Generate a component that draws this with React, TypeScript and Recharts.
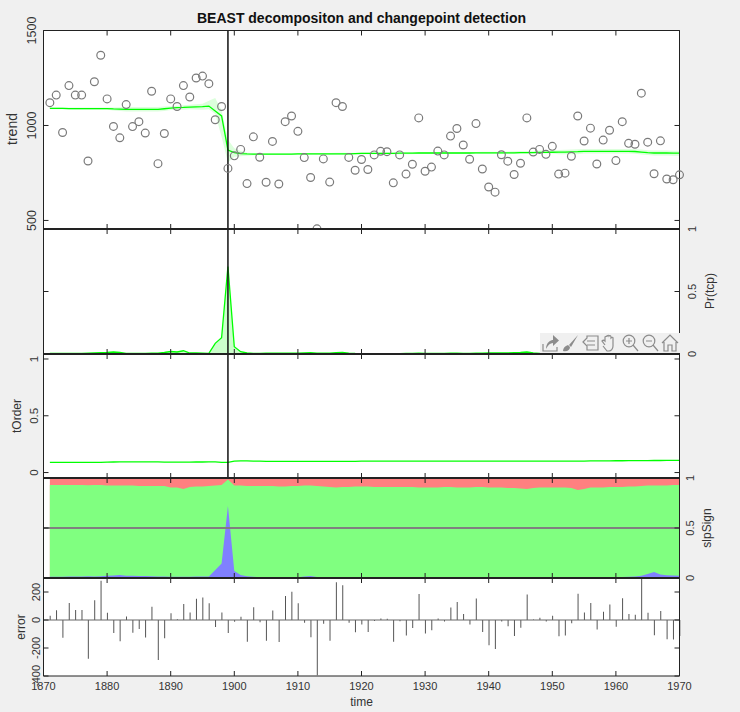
import React from "react";
import { ComposedChart, Line, Area, Bar, XAxis, YAxis, ReferenceLine, CartesianGrid } from "recharts";

const years = [1871,1872,1873,1874,1875,1876,1877,1878,1879,1880,1881,1882,1883,1884,1885,1886,1887,1888,1889,1890,1891,1892,1893,1894,1895,1896,1897,1898,1899,1900,1901,1902,1903,1904,1905,1906,1907,1908,1909,1910,1911,1912,1913,1914,1915,1916,1917,1918,1919,1920,1921,1922,1923,1924,1925,1926,1927,1928,1929,1930,1931,1932,1933,1934,1935,1936,1937,1938,1939,1940,1941,1942,1943,1944,1945,1946,1947,1948,1949,1950,1951,1952,1953,1954,1955,1956,1957,1958,1959,1960,1961,1962,1963,1964,1965,1966,1967,1968,1969,1970];
const observed = [1120,1160,963,1210,1160,1160,813,1230,1370,1140,995,935,1110,994,1020,960,1180,799,958,1140,1100,1210,1150,1250,1260,1220,1030,1100,774,840,874,694,940,833,701,916,692,1020,1050,969,831,726,456,824,702,1120,1100,832,764,821,768,845,864,862,698,845,744,796,1040,759,781,865,845,944,984,897,822,1010,771,676,649,846,812,742,801,1040,860,874,848,890,744,749,838,1050,918,986,797,923,975,815,1020,906,901,1170,912,746,919,718,714,740];
const trend = [1090,1090,1090,1089,1089,1089,1089,1089,1089,1089,1087,1086,1085,1085,1085,1085,1085,1085,1088,1091,1094,1095,1097,1098,1099,1102,1076,1050,871,857,852,850,849,849,849,849,849,849,849,850,850,850,850,850,850,851,851,851,852,853,853,853,853,853,853,854,854,854,855,855,855,855,855,855,855,855,855,856,856,856,856,856,856,856,857,857,857,858,858,859,860,860,861,862,864,864,864,864,864,864,864,864,863,860,857,855,855,855,854,854];
const trendHi = [1095,1095,1095,1094,1095,1095,1095,1095,1095,1095,1095,1096,1097,1097,1097,1097,1097,1097,1100,1101,1104,1107,1109,1112,1115,1130,1145,1080,925,880,865,857,855,854,854,854,854,854,854,855,855,855,855,855,855,856,856,856,857,858,858,858,858,858,858,859,859,859,860,860,860,860,860,860,860,860,860,861,862,862,862,862,863,864,866,866,866,868,868,870,871,872,874,875,876,876,876,876,876,876,876,876,875,873,870,868,868,868,867,867];
const trendLo = [1085,1085,1085,1084,1083,1083,1083,1083,1083,1083,1079,1076,1073,1073,1073,1073,1073,1073,1076,1081,1084,1083,1085,1084,1083,1085,1060,940,805,835,838,841,843,844,844,844,844,844,844,845,845,845,845,845,845,846,846,846,847,848,848,848,848,848,848,849,849,849,850,850,850,850,850,850,850,850,850,851,850,850,850,850,851,850,852,852,852,852,852,852,849,848,848,849,852,852,852,852,852,852,852,852,851,847,844,842,842,842,841,841];
const prTcp = [.005,.004,.004,.004,.004,.004,.006,.008,.01,.012,.016,.012,.004,.005,.005,.005,.006,.006,.012,.02,.016,.026,.008,.008,.007,.005,.085,.13,.7,.058,.018,.008,.005,.005,.006,.006,.006,.007,.007,.006,.008,.01,.007,.007,.007,.01,.013,.007,.004,.003,.003,.003,.003,.003,.003,.003,.004,.004,.006,.005,.004,.004,.004,.006,.006,.005,.005,.006,.007,.008,.008,.008,.009,.01,.012,.016,.008,.005,.005,.005,.004,.004,.004,.004,.004,.004,.004,.004,.004,.004,.005,.005,.005,.005,.005,.005,.005,.005,.005,.005];
const tOrder = [.09,.09,.09,.09,.09,.09,.09,.09,.09,.092,.093,.094,.094,.094,.094,.094,.094,.094,.092,.092,.092,.092,.092,.093,.093,.094,.094,.09,.09,.1,.102,.102,.1,.1,.098,.098,.098,.098,.098,.098,.098,.098,.098,.098,.098,.099,.099,.099,.099,.1,.1,.1,.1,.1,.1,.1,.1,.1,.1,.1,.1,.1,.1,.1,.1,.1,.1,.1,.1,.1,.1,.1,.1,.1,.1,.1,.1,.1,.1,.1,.1,.1,.1,.101,.101,.102,.102,.103,.103,.104,.104,.105,.105,.105,.105,.106,.106,.107,.107,.107];
const slopeNegTop = [.012,.012,.012,.015,.015,.015,.018,.015,.018,.022,.025,.03,.022,.022,.02,.02,.018,.016,.014,.012,.012,.012,.012,.014,.014,.015,.08,.145,.72,.07,.03,.018,.012,.008,.006,.006,.006,.007,.007,.008,.016,.02,.01,.003,.002,.002,.002,.002,.002,.002,.002,.002,.002,.002,.002,.002,.002,.002,.002,.002,.002,.002,.002,.002,.002,.002,.002,.002,.002,.002,.002,.002,.002,.002,.002,.002,.002,.002,.002,.002,.002,.002,.002,.002,.002,.003,.004,.005,.006,.008,.01,.012,.016,.022,.04,.06,.035,.028,.025,.022];
const slopeZeroTop = [.93,.93,.93,.93,.93,.93,.928,.93,.93,.925,.925,.925,.925,.925,.92,.92,.92,.92,.92,.905,.905,.89,.91,.915,.915,.92,.925,.93,.985,.925,.925,.92,.92,.92,.92,.92,.915,.915,.92,.92,.925,.925,.92,.915,.91,.905,.91,.91,.915,.915,.915,.91,.91,.91,.91,.91,.91,.91,.905,.905,.905,.905,.91,.91,.905,.905,.905,.91,.91,.905,.905,.905,.9,.9,.895,.89,.9,.905,.905,.905,.905,.905,.9,.88,.89,.905,.905,.905,.91,.91,.91,.915,.915,.92,.925,.925,.925,.925,.93,.93];
const slopePosTop = [1,1,1,1,1,1,1,1,1,1,1,1,1,1,1,1,1,1,1,1,1,1,1,1,1,1,1,1,1,1,1,1,1,1,1,1,1,1,1,1,1,1,1,1,1,1,1,1,1,1,1,1,1,1,1,1,1,1,1,1,1,1,1,1,1,1,1,1,1,1,1,1,1,1,1,1,1,1,1,1,1,1,1,1,1,1,1,1,1,1,1,1,1,1,1,1,1,1,1,1];
const residual = [30,70,-127,121,71,71,-276,141,281,51,-92,-151,25,-91,-65,-125,95,-286,-130,49,6,115,53,152,161,120,-50,54,-93,-13,24,-155,91,-16,-148,67,-157,171,201,119,-19,-124,-394,-26,-148,269,249,-19,-88,-32,-85,-8,11,9,-155,-9,-110,-58,185,-96,-74,10,-10,89,129,42,-33,154,-85,-180,-207,-10,-44,-114,-56,183,3,16,-10,31,-116,-111,-23,188,54,122,-67,59,111,-49,156,42,37,307,52,-109,64,-137,-140,-114];

const xTicks = [1870,1880,1890,1900,1910,1920,1930,1940,1950,1960,1970];
const trendTicks = [500,1000,1500];
const unitTicks = [0,0.5,1];
const errorTicks = [-400,-200,0,200];

const rows = years.map((year, i) => ({
  year,
  observed: observed[i],
  trend: trend[i],
  band: [trendLo[i], trendHi[i]],
  prTcp: prTcp[i],
  tOrder: tOrder[i],
  neg: slopeNegTop[i],
  zero: slopeZeroTop[i],
  pos: slopePosTop[i],
  residual: residual[i],
}));

const INK = "#333333";
const FONT = "'Liberation Sans', Arial, sans-serif";
const W = 740;
const H = 712;
const MARGIN_L = 43.5;
const MARGIN_R = 60.5;
const TICK = 5;

const XTick = ({ x, y, payload, dir, label }: any) => (
  <g>
    <line x1={x} x2={x} y1={y} y2={y + dir * TICK} stroke="#222" strokeWidth={1} />
    {label ? (
      <text x={x} y={y + 14} textAnchor="middle" fontFamily={FONT} fontSize={11} fill={INK}>
        {payload.value}
      </text>
    ) : null}
  </g>
);

const YTick = ({ x, y, payload, dir, label, labelX, labelSize }: any) => (
  <g>
    <line x1={x} x2={x + dir * TICK} y1={y} y2={y} stroke="#222" strokeWidth={1} />
    {label ? (
      <text
        x={labelX}
        y={y}
        textAnchor="middle"
        dominantBaseline="central"
        transform={`rotate(-90 ${labelX} ${y})`}
        fontFamily={FONT}
        fontSize={labelSize}
        fill={INK}
      >
        {payload.value}
      </text>
    ) : null}
  </g>
);

type PanelProps = {
  top: number;
  bottom: number;
  domain: [number, number];
  ticks: number[];
  labelSide: "l" | "r";
  labelX: number;
  labelSize?: number;
  ghost: string;
  topWidth?: number;
  bottomWidth?: number;
  showX?: boolean;
  clipY?: boolean;
  children: React.ReactNode;
};

const frame = (w: number) => ({ stroke: "#222", strokeWidth: w });

const Panel = ({ top, bottom, domain, ticks, labelSide, labelX, labelSize = 11, ghost, topWidth = 1, bottomWidth = 2, showX = false, clipY = false, children }: PanelProps) => (
  <div style={{ position: "absolute", left: 0, top: 0, width: W, height: H }}>
    <ComposedChart
      width={W}
      height={H}
      data={rows}
      margin={{ top: top - 1, bottom: H - bottom - 1, left: MARGIN_L - 1, right: MARGIN_R - 1 }}
    >
      <CartesianGrid xAxisId="b" yAxisId="l" horizontal={false} vertical={false} fill="#ffffff" />
      {children}
      <Line xAxisId="t" yAxisId="r" dataKey={ghost} stroke="none" dot={false} activeDot={false} isAnimationActive={false} />
      <XAxis xAxisId="b" dataKey="year" type="number" domain={[1870, 1970]} ticks={xTicks} interval={0} orientation="bottom" height={1} tickSize={0} tickMargin={0} tickLine={false} axisLine={frame(bottomWidth)} tick={(p: any) => <XTick {...p} dir={-1} label={showX} />} />
      <XAxis xAxisId="t" dataKey="year" type="number" domain={[1870, 1970]} ticks={xTicks} interval={0} orientation="top" height={1} tickSize={0} tickMargin={0} tickLine={false} axisLine={frame(topWidth)} tick={(p: any) => <XTick {...p} dir={1} label={false} />} />
      <YAxis yAxisId="l" type="number" domain={domain} ticks={ticks} interval={0} orientation="left" width={1} tickSize={0} tickMargin={0} tickLine={false} axisLine={frame(1)} allowDataOverflow={clipY} tick={(p: any) => <YTick {...p} dir={1} label={labelSide === "l"} labelX={labelX} labelSize={labelSize} />} />
      <YAxis yAxisId="r" type="number" domain={domain} ticks={ticks} interval={0} orientation="right" width={1} tickSize={0} tickMargin={0} tickLine={false} axisLine={frame(1)} allowDataOverflow={clipY} tick={(p: any) => <YTick {...p} dir={-1} label={labelSide === "r"} labelX={labelX} labelSize={labelSize} />} />
    </ComposedChart>
  </div>
);

const axisIds = { xAxisId: "b", yAxisId: "l" };

const RotLabel = ({ x, y, size, children }: any) => (
  <div
    style={{
      position: "absolute",
      left: x,
      top: y,
      transform: "translate(-50%, -50%) rotate(-90deg)",
      fontFamily: FONT,
      fontSize: size,
      color: INK,
      whiteSpace: "nowrap",
      lineHeight: 1,
    }}
  >
    {children}
  </div>
);

const ICON = "#8c8c8c";
const Toolbar = () => (
  <svg style={{ position: "absolute", left: 540, top: 333 }} width={140} height={20}>
    <rect x={0} y={0} width={140} height={20} fill="#f0f0f0" />
    <g fill="none" stroke={ICON} strokeWidth={1.2}>
      <path d="M3 11 V18 H17 V14" />
      <path d="M6 16 C6 9 11 7 13 7 V2 L19 7.5 L13 13 V10 C10 10 8 12 6 16 Z" fill={ICON} stroke="none" />
      <path d="M23 18 C23 15 25 13 28 12 L30 14 C30 17 27 19 23 18 Z" fill={ICON} stroke="none" />
      <path d="M29 12 L38 2 L31 14 Z" fill={ICON} stroke="none" />
      <path d="M43 9 L47 5 V3 H58 V17 H47 V13 Z" />
      <path d="M47 8 H55 M47 12 H55" />
      <path d="M65 12 L62 8 C63 7 64 7 65 8 V4 C66 3 67 3 67 4 V3 C68 2 69 2 69 3 V3 C70 2 71 3 71 4 V5 C72 4 73 4 73 5 V13 C73 16 71 18 69 18 H67 L63 13" />
      <circle cx="89" cy="8" r="5.8" />
      <path d="M86 8 H92 M89 5 V11 M93 12 L98 18" />
      <circle cx="109" cy="8" r="5.8" />
      <path d="M106 8 H112 M113 12 L118 18" />
      <path d="M122 10 L130 2 L138 10 M124 9 V18 H128 V12 H132 V18 H136 V9" />
    </g>
  </svg>
);

export default function App() {
  return (
    <div style={{ position: "absolute", left: 0, top: 0, width: W, height: H, background: "#f0f0f0", overflow: "hidden" }}>
      <Panel top={30.5} bottom={229} domain={[455, 1500]} ticks={trendTicks} labelSide="l" labelX={32} labelSize={12.5} ghost="trend">
        <Area {...axisIds} dataKey="band" type="linear" stroke="none" fill="#dcffdc" fillOpacity={1} isAnimationActive={false} />
        <Line {...axisIds} dataKey="trend" type="linear" stroke="#00ff00" strokeWidth={1.3} dot={false} isAnimationActive={false} />
        <Line {...axisIds} dataKey="observed" type="linear" stroke="none" dot={{ r: 3.9, fill: "none", stroke: "#7a7a7a", strokeWidth: 1.2 }} activeDot={false} isAnimationActive={false} />
        <ReferenceLine {...axisIds} x={1899} stroke="#111" strokeWidth={1.5} />
      </Panel>
      <Panel top={229} bottom={354} domain={[0, 1]} ticks={unitTicks} labelSide="r" labelX={691.5} ghost="prTcp" topWidth={2}>
        <Area {...axisIds} dataKey="prTcp" type="linear" stroke="#00ff00" strokeWidth={1.3} fill="#ccffcc" fillOpacity={1} isAnimationActive={false} />
        <ReferenceLine {...axisIds} x={1899} stroke="#111" strokeWidth={1.5} />
      </Panel>
      <Panel top={354} bottom={478} domain={[-0.048, 1.044]} ticks={unitTicks} labelSide="l" labelX={34} labelSize={11.5} ghost="tOrder" topWidth={2}>
        <Line {...axisIds} dataKey="tOrder" type="linear" stroke="#00ff00" strokeWidth={1.3} dot={false} isAnimationActive={false} />
        <ReferenceLine {...axisIds} x={1899} stroke="#111" strokeWidth={1.5} />
      </Panel>
      <Panel top={478} bottom={578} domain={[0, 1]} ticks={unitTicks} labelSide="r" labelX={689.5} ghost="zero" topWidth={2}>
        <Area {...axisIds} dataKey="pos" type="linear" stroke="none" fill="#ff8080" fillOpacity={1} isAnimationActive={false} />
        <Area {...axisIds} dataKey="zero" type="linear" stroke="none" fill="#80ff80" fillOpacity={1} isAnimationActive={false} />
        <Area {...axisIds} dataKey="neg" type="linear" stroke="none" fill="#8080ff" fillOpacity={1} isAnimationActive={false} />
        <ReferenceLine {...axisIds} y={0.5} stroke="#808080" strokeWidth={2} />
      </Panel>
      <Panel top={578} bottom={676} domain={[-400, 300]} ticks={errorTicks} labelSide="l" labelX={36} ghost="residual" topWidth={2} bottomWidth={1} showX clipY>
        <ReferenceLine {...axisIds} y={0} stroke="#666" strokeWidth={1} segment={[{ x: 1871, y: 0 }, { x: 1970, y: 0 }]} />
        <Bar {...axisIds} dataKey="residual" barSize={1} fill="#555555" isAnimationActive={false} />
      </Panel>

      <div style={{ position: "absolute", left: 0, width: 723, top: 11, textAlign: "center", fontFamily: FONT, fontSize: 14, fontWeight: 700, color: "#111", lineHeight: "15px" }}>
        BEAST decompositon and changepoint detection
      </div>
      <div style={{ position: "absolute", left: 0, width: 723, top: 695, textAlign: "center", fontFamily: FONT, fontSize: 12, color: INK, lineHeight: "14px" }}>
        time
      </div>
      <RotLabel x={12} y={129} size={14}>trend</RotLabel>
      <RotLabel x={710} y={291} size={12}>Pr(tcp)</RotLabel>
      <RotLabel x={17} y={416} size={12}>tOrder</RotLabel>
      <RotLabel x={707} y={528} size={12}>slpSign</RotLabel>
      <RotLabel x={21} y={627} size={12}>error</RotLabel>
      <Toolbar />
    </div>
  );
}
